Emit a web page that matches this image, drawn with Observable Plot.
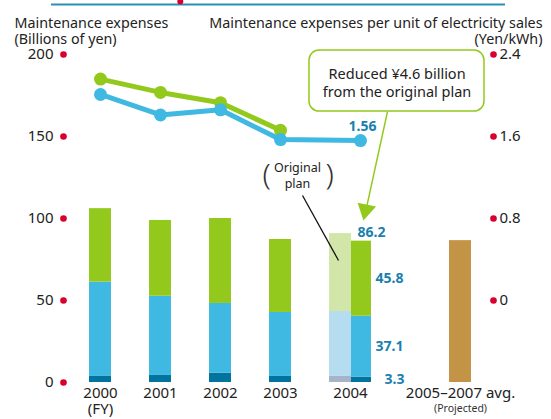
<!DOCTYPE html>
<html>
<head>
<meta charset="utf-8">
<script src="https://cdn.jsdelivr.net/npm/d3@7"></script>
<script src="https://cdn.jsdelivr.net/npm/@observablehq/plot@0.6"></script>
<style>
  html, body { margin: 0; padding: 0; background: #fff; }
  svg { font-family: "Noto Sans", sans-serif; }
</style>
</head>
<body>
<div id="chart"></div>
<script>
// ---- Data ----
const years = ["2000", "2001", "2002", "2003", "2004"];
const barSlots = [0, 1, 2, 3, 4.333];          // position of each actual bar
const darkBlue = [3.7, 4.3, 5.7, 3.7, 3.3];     // bottom segment
const lightBlue = [57.5, 48.3, 42.5, 39.0, 37.1];
const green = [44.8, 46.2, 51.8, 44.5, 45.8];
const planSlot = 4;
const planValues = [3.7, 39.6, 47.5];           // original plan 2004 (dark, blue, green)
const projectedSlot = 6;
const projectedValue = 86.5;                    // 2005–2007 avg.

const lineGreenSlots = [0, 1, 2, 3];
const lineGreen = [2.16, 2.03, 1.93, 1.66];     // Yen/kWh
const lineBlueSlots = [0, 1, 2, 3, 4.333];
const lineBlue = [2.01, 1.81, 1.86, 1.57, 1.56];

const leftTicks = [0, 50, 100, 150, 200];
const rightTicks = [0, 0.8, 1.6, 2.4];
const rightMin = -0.8, rightMax = 2.4;

const C = {
  dark: "#00739e", blue: "#3fb8e2", green: "#93c91c",
  pDark: "#a7b4c8", pBlue: "#b5ddef", pGreen: "#d3e6aa",
  gold: "#c39446", red: "#d7002f", label: "#1a7fae", rule: "#2a8fb5"
};

// map right axis value into left-axis units
const r2l = v => (v - rightMin) / (rightMax - rightMin) * 200;

// ---- Build bar table ----
const half = 0.183;
const rects = [];
years.forEach((yr, i) => {
  const segs = [[darkBlue[i], C.dark], [lightBlue[i], C.blue], [green[i], C.green]];
  let base = 0;
  segs.forEach(([v, c]) => {
    rects.push({x1: barSlots[i] - half, x2: barSlots[i] + half, y1: base, y2: base + v, fill: c});
    base += v;
  });
});
{
  let base = 0;
  [[planValues[0], C.pDark], [planValues[1], C.pBlue], [planValues[2], C.pGreen]].forEach(([v, c]) => {
    rects.push({x1: planSlot - half, x2: planSlot + half, y1: base, y2: base + v, fill: c});
    base += v;
  });
}
rects.push({x1: projectedSlot - half, x2: projectedSlot + half, y1: 0, y2: projectedValue, fill: C.gold});

const greenPts = lineGreenSlots.map((x, i) => ({x, y: r2l(lineGreen[i])}));
const bluePts = lineBlueSlots.map((x, i) => ({x, y: r2l(lineBlue[i])}));

const i4 = 4;
const top4 = darkBlue[i4] + lightBlue[i4] + green[i4];
const segLabels = [
  {y: darkBlue[i4] + lightBlue[i4] + green[i4] / 2, text: green[i4].toFixed(1)},
  {y: darkBlue[i4] + lightBlue[i4] / 2, text: lightBlue[i4].toFixed(1)},
  {y: darkBlue[i4] / 2, text: darkBlue[i4].toFixed(1)}
];

const xLabels = [
  {x: 0, t: "2000"}, {x: 1, t: "2001"}, {x: 2, t: "2002"}, {x: 3, t: "2003"},
  {x: (planSlot + barSlots[4]) / 2, t: "2004"}, {x: projectedSlot, t: "2005\u20132007 avg."}
];

const fs = 15;
const labelStyle = {fontSize: 14, fontWeight: "bold", fill: C.label};
const chart = Plot.plot({
  width: 551,
  height: 419,
  marginTop: 54,
  marginBottom: 37,
  marginLeft: 63,
  marginRight: 58,
  x: {type: "linear", domain: [-0.6167, 6.55], axis: null},
  y: {domain: [0, 200], axis: null},
  style: {fontFamily: "Noto Sans, sans-serif", overflow: "visible"},
  marks: [
    // top rule
    Plot.ruleY([200], {dy: -50, x1: -0.8167, x2: 6.75, stroke: C.rule, strokeWidth: 2}),
    Plot.dot([200], {x: () => 1.33, y: d => d, dy: -53, r: 3, fill: C.red}),
    // titles
    Plot.text(["Maintenance expenses"], {frameAnchor: "top-left", dx: -49, dy: -37, textAnchor: "start", fontSize: 14.3, fill: "#222"}),
    Plot.text(["(Billions of yen)"], {frameAnchor: "top-left", dx: -49, dy: -20.5, textAnchor: "start", fontSize: 14.3, fill: "#222"}),
    Plot.text(["Maintenance expenses per unit of electricity sales"], {frameAnchor: "top-right", dx: 49, dy: -37, textAnchor: "end", fontSize: 14.3, fill: "#222"}),
    Plot.text(["(Yen/kWh)"], {frameAnchor: "top-right", dx: 49, dy: -20.5, textAnchor: "end", fontSize: 14.3, fill: "#222"}),
    // left axis
    Plot.dot(leftTicks, {y: d => d, frameAnchor: "left", r: 3.3, fill: C.red}),
    Plot.text(leftTicks, {y: d => d, text: d => String(d), frameAnchor: "left", dx: -10, textAnchor: "end", fontSize: fs, fill: "#222"}),
    // right axis
    Plot.dot(rightTicks, {y: d => r2l(d), frameAnchor: "right", r: 3.3, fill: C.red}),
    Plot.text(rightTicks, {y: d => r2l(d), text: d => String(d), frameAnchor: "right", dx: 6, textAnchor: "start", fontSize: fs, fill: "#222"}),
    // bars
    Plot.rect(rects, {x1: "x1", x2: "x2", y1: "y1", y2: "y2", fill: "fill"}),
    // lines
    Plot.line(greenPts, {x: "x", y: "y", stroke: C.green, strokeWidth: 5}),
    Plot.dot(greenPts, {x: "x", y: "y", r: 6.5, fill: C.green}),
    Plot.line(bluePts, {x: "x", y: "y", stroke: C.blue, strokeWidth: 5}),
    Plot.dot(bluePts, {x: "x", y: "y", r: 6.5, fill: C.blue}),
    Plot.text([bluePts[4]], {x: "x", y: "y", text: () => lineBlue[4].toFixed(2), dx: 2, dy: -14, ...labelStyle}),
    // value labels on 2004
    Plot.text([top4], {x: () => barSlots[i4], y: d => d, text: d => d.toFixed(1), dx: 11, dy: -9, ...labelStyle}),
    Plot.text(segLabels.slice(0, 2), {x: () => barSlots[i4], y: "y", text: "text", dx: 15, textAnchor: "start", ...labelStyle}),
    Plot.text(segLabels.slice(2), {x: () => barSlots[i4], y: "y", text: "text", dx: 24, textAnchor: "start", ...labelStyle}),
    // x labels
    Plot.text(xLabels, {x: "x", y: () => 0, text: "t", dy: 11, fontSize: fs, fill: "#222"}),
    Plot.text(["(FY)"], {x: () => 0, y: () => 0, dy: 27, fontSize: fs, fill: "#222"}),
    Plot.text(["(Projected)"], {x: () => projectedSlot, y: () => 0, dy: 26, fontSize: 10.5, fill: "#333"}),
    // original plan annotation
    Plot.text(["Original", "plan"], {x: () => 3.283, y: (d, i) => 131 - i * 9.8, fontSize: 12.5, fill: "#222"}),
    Plot.text(["(", ")"], {x: (d, i) => i ? 3.82 : 2.77, y: () => 126.5, fontSize: 30, fontWeight: 300, fill: "#333"}),
    Plot.link([0], {x1: () => 3.367, y1: () => 114, x2: () => 3.967, y2: () => 74.4, stroke: "#111", strokeWidth: 1.3}),
    // reduction callout
    Plot.link([0], {x1: () => 4.783, y1: () => 165.2, x2: () => 4.43, y2: () => 106, stroke: C.green, strokeWidth: 1.5}),
    Plot.dot([0], {x: () => 4.42, y: () => 105.2, symbol: "triangle", r: 7, rotate: 192, fill: C.green}),
    Plot.rect([0], {x1: () => 3.483, x2: () => 6.4, y1: () => 165.2, y2: () => 202.4, fill: "white", stroke: C.green, strokeWidth: 1.5, rx: 10}),
    Plot.text(["Reduced \u00a54.6 billion", "from the original plan"], {x: () => 4.943, y: (d, i) => 188 - i * 11, fontSize: 14.5, fill: "#222"})
  ]
});
document.getElementById("chart").append(chart);
</script>
</body>
</html>
